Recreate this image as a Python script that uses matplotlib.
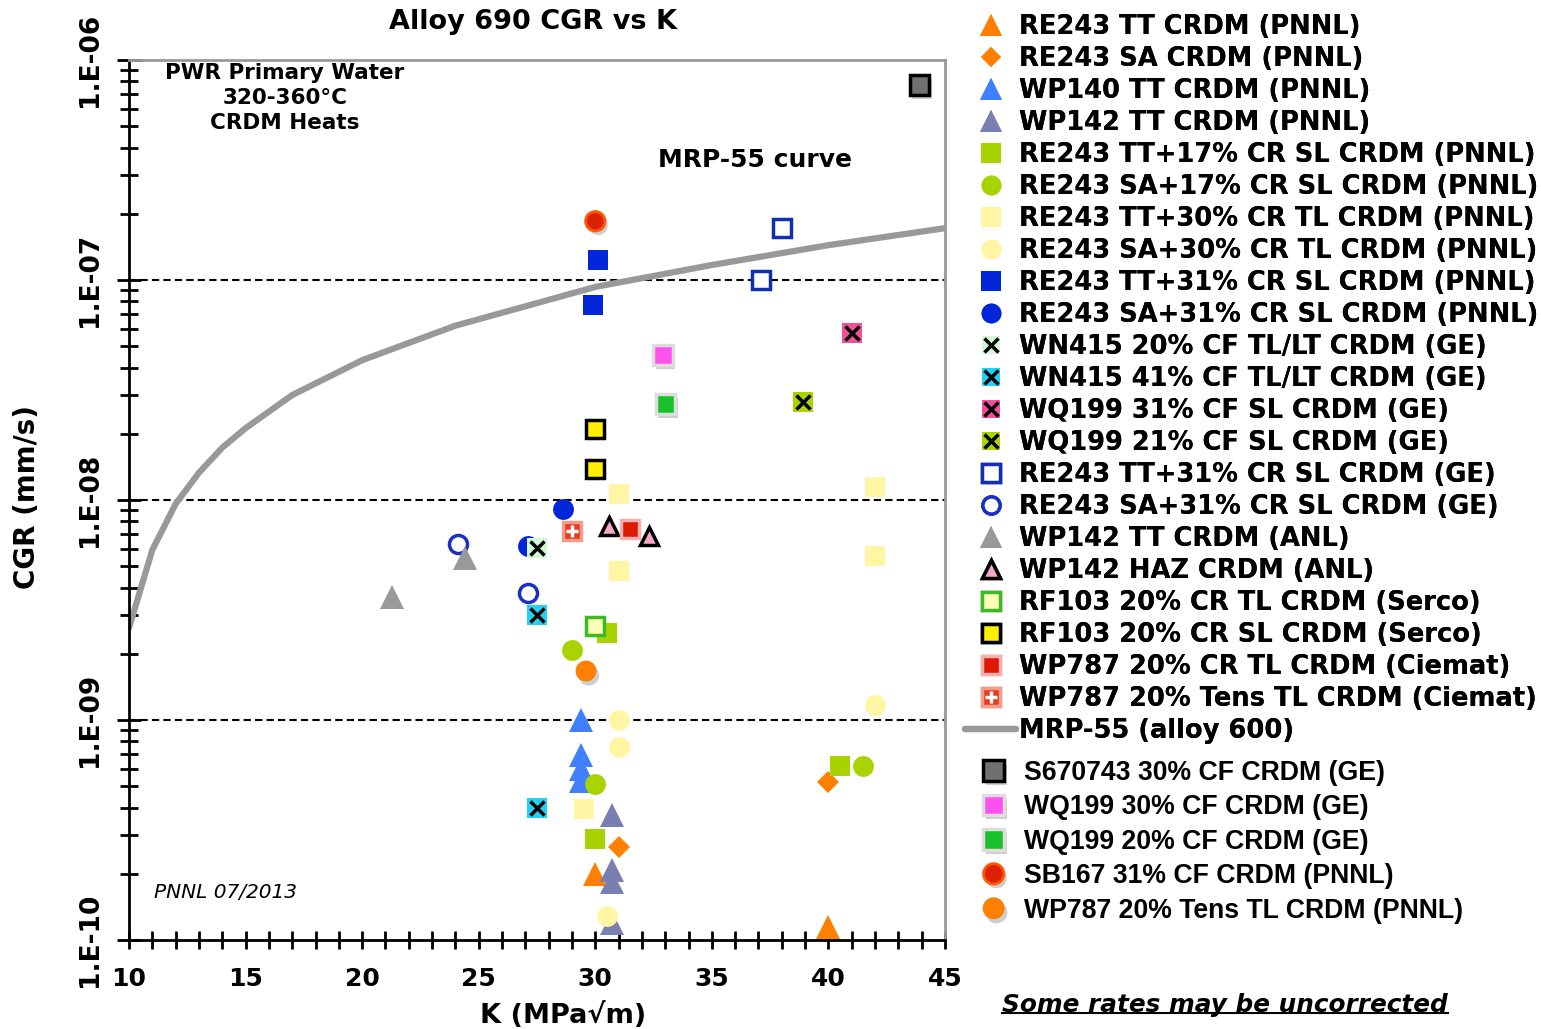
# Alloy 690 CGR vs K - crack growth rates of CRDM heats
import numpy as np
import matplotlib
matplotlib.use('Agg')
import matplotlib.pyplot as plt
import matplotlib.patheffects as pe
from matplotlib.legend_handler import HandlerTuple
from matplotlib.lines import Line2D
from matplotlib.ticker import FixedLocator, NullFormatter

# Data: stress intensity K (MPa*sqrt(m)) and CGR (mm/s)
labels = [
    'RE243 TT CRDM (PNNL)',
    'RE243 SA CRDM (PNNL)',
    'WP140 TT CRDM (PNNL)',
    'WP142 TT CRDM (PNNL)',
    'RE243 TT+17% CR SL CRDM (PNNL)',
    'RE243 SA+17% CR SL CRDM (PNNL)',
    'RE243 TT+30% CR TL CRDM (PNNL)',
    'RE243 SA+30% CR TL CRDM (PNNL)',
    'RE243 TT+31% CR SL CRDM (PNNL)',
    'RE243 SA+31% CR SL CRDM (PNNL)',
    'WN415 20% CF TL/LT CRDM (GE)',
    'WN415 41% CF TL/LT CRDM (GE)',
    'WQ199 31% CF SL CRDM (GE)',
    'WQ199 21% CF SL CRDM (GE)',
    'RE243 TT+31% CR SL CRDM (GE)',
    'RE243 SA+31% CR SL CRDM (GE)',
    'WP142 TT CRDM (ANL)',
    'WP142 HAZ CRDM (ANL)',
    'RF103 20% CR TL CRDM (Serco)',
    'RF103 20% CR SL CRDM (Serco)',
    'WP787 20% CR TL CRDM (Ciemat)',
    'WP787 20% Tens TL CRDM (Ciemat)',
    'S670743 30% CF CRDM (GE)',
    'WQ199 30% CF CRDM (GE)',
    'WQ199 20% CF CRDM (GE)',
    'SB167 31% CF CRDM (PNNL)',
    'WP787 20% Tens TL CRDM (PNNL)',
]
k_values = [
    [30.0, 40.0],
    [31.0, 40.0],
    [29.4, 29.4, 29.4, 29.4],
    [30.7, 30.7, 30.7, 30.7],
    [30.5, 30.0, 40.5],
    [29.0, 30.0, 41.5],
    [31.0, 31.0, 42.0, 42.0, 29.5],
    [31.0, 31.0, 42.0, 30.5],
    [30.1, 29.9],
    [28.6, 27.1],
    [27.5],
    [27.5, 27.5],
    [41.0],
    [38.9],
    [38.0, 37.1],
    [24.1, 27.1],
    [24.4, 21.3],
    [30.6, 32.3],
    [30.0],
    [30.0, 30.0],
    [31.5],
    [29.0],
    [43.9],
    [32.9],
    [33.0],
    [30.0],
    [29.6],
]
cgr_values = [
    [2.0e-10, 1.15e-10],
    [2.65e-10, 5.2e-10],
    [1.0e-9, 6.9e-10, 6.0e-10, 5.3e-10],
    [3.7e-10, 2.08e-10, 1.84e-10, 1.19e-10],
    [2.48e-9, 2.88e-10, 6.2e-10],
    [2.08e-9, 5.1e-10, 6.2e-10],
    [1.06e-8, 4.75e-9, 1.15e-8, 5.56e-9, 3.94e-10],
    [1.0e-9, 7.5e-10, 1.17e-9, 1.29e-10],
    [1.23e-7, 7.7e-8],
    [9.1e-9, 6.2e-9],
    [6.05e-9],
    [3.0e-9, 3.98e-10],
    [5.74e-8],
    [2.79e-8],
    [1.72e-7, 1.0e-7],
    [6.3e-9, 3.78e-9],
    [5.45e-9, 3.62e-9],
    [7.6e-9, 6.86e-9],
    [2.67e-9],
    [2.1e-8, 1.38e-8],
    [7.38e-9],
    [7.22e-9],
    [7.7e-7],
    [4.56e-8],
    [2.73e-8],
    [1.85e-7],
    [1.67e-9],
]

# MRP-55 disposition curve (alloy 600)
curve_k = [10, 11, 12, 13, 14, 15, 17, 20, 24, 30, 35, 40, 45]
curve_cgr = [2.62e-9, 5.93e-9, 9.6e-9, 1.33e-8, 1.73e-8, 2.12e-8, 3.0e-8,
             4.32e-8, 6.2e-8, 9.3e-8, 1.17e-7, 1.44e-7, 1.72e-7]

ytick_vals = [1e-10, 1e-9, 1e-8, 1e-7, 1e-6]
ytick_labels = ['1.E-10', '1.E-09', '1.E-08', '1.E-07', '1.E-06']
xtick_vals = [10, 15, 20, 25, 30, 35, 40, 45]

W, H = 1541, 1029
fx = lambda px: px / W
fy = lambda py: 1 - py / H

fig = plt.figure(figsize=(W / 100, H / 100), dpi=100)
ax = fig.add_axes([fx(129), fy(940), (945 - 129) / W, (940 - 60) / H])

shadow = [pe.SimplePatchShadow(offset=(2, -3), shadow_rgbFace='0.45', alpha=0.35), pe.Normal()]

# (marker, size, face, edge, edge width, overlay, shadow)
X_OVER = ('x', 10, 'black', 2.5)
styles = [
    ('^', 17, '#ff7f00', '#ff7f00', 0, None, False),
    ('D', 11, '#ff7f00', '#ff7f00', 0, None, False),
    ('^', 17, '#3f80ff', '#3f80ff', 0, None, False),
    ('^', 17, '#7a7fb2', '#7a7fb2', 0, None, False),
    ('s', 15, '#a8d200', '#a8d200', 0, None, False),
    ('o', 15, '#a8d200', '#a8d200', 0, None, False),
    ('s', 15, '#fff5a3', '#fff5a3', 0, None, False),
    ('o', 15, '#fff5a3', '#fff5a3', 0, None, False),
    ('s', 15, '#0026d8', '#0026d8', 0, None, False),
    ('o', 15, '#0026d8', '#0026d8', 0, None, False),
    ('s', 14, '#d4f7d4', '#d4f7d4', 0, X_OVER, False),
    ('s', 14, '#22d2f2', '#22d2f2', 0, X_OVER, False),
    ('s', 14, '#f0509a', '#f0509a', 0, X_OVER, False),
    ('s', 14, '#a8d200', '#a8d200', 0, X_OVER, False),
    ('s', 13, 'white', '#1030b0', 2.5, None, False),
    ('o', 13, 'white', '#1a30c0', 2.5, None, False),
    ('^', 17, '#999999', '#999999', 0, None, False),
    ('^', 13, '#f4a8c8', 'black', 2.5, None, False),
    ('s', 13, '#ffffb8', '#3cb828', 2.5, None, False),
    ('s', 13, '#ffee00', 'black', 2.5, None, False),
    ('s', 13, '#dd1a00', '#f2b0b0', 2.5, None, False),
    ('s', 13, '#e83a20', '#f29c8c', 2.5, ('+', 9, 'white', 2.5), False),
    ('s', 14, '#707070', 'black', 2.5, None, True),
    ('s', 14, '#ff50f0', '#dddddd', 2.5, None, True),
    ('s', 14, '#18c02a', '#dddddd', 2.5, None, True),
    ('o', 14, '#dd2200', '#ff5a00', 2, None, True),
    ('o', 15, '#ff7f00', '#ff7f00', 0, None, True),
]

# reference lines at each decade
for v in [1e-7, 1e-8, 1e-9]:
    ax.axhline(v, color='black', lw=1.5, ls=(0, (3.5, 2)), zorder=1)

curve, = ax.plot(curve_k, curve_cgr, color='#999999', lw=4.5, zorder=2,
                 solid_capstyle='round', solid_joinstyle='round')

handles = []
for i, (lab, k, cgr, st) in enumerate(zip(labels, k_values, cgr_values, styles)):
    m, ms, fc, ec, ew, over, shad = st
    h, = ax.plot(k, cgr, ls='none', marker=m, ms=ms, mfc=fc, mec=ec, mew=ew,
                 zorder=3 + i * 0.01, label=lab)
    if shad:
        h.set_path_effects(shadow)
    if over:
        h2, = ax.plot(k, cgr, ls='none', marker=over[0], ms=over[1], color=over[2],
                      mew=over[3], zorder=3 + i * 0.01 + 0.005)
        handles.append((h, h2))
    else:
        handles.append(h)

ax.set_yscale('log')
ax.set_xlim(10, 45)
ax.set_ylim(1e-10, 1e-6)

ax.xaxis.set_major_locator(FixedLocator(xtick_vals))
ax.xaxis.set_minor_locator(FixedLocator(np.arange(10, 46, 1)))
ax.set_xticklabels([str(v) for v in xtick_vals], fontsize=18, weight='bold')

ax.yaxis.set_major_locator(FixedLocator(ytick_vals))
minors = [m * 10.0 ** e for e in range(-10, -6) for m in range(2, 10)]
ax.yaxis.set_minor_locator(FixedLocator(minors))
ax.yaxis.set_minor_formatter(NullFormatter())
ax.set_yticklabels(ytick_labels, fontsize=19, weight='bold', rotation=90, va='center')

ax.tick_params(axis='x', which='both', direction='inout', length=13, width=2, pad=13)
ax.tick_params(axis='y', which='major', direction='inout', length=17, width=2, pad=10)
ax.tick_params(axis='y', which='minor', direction='inout', length=13, width=2)

for s in ['left', 'bottom']:
    ax.spines[s].set_linewidth(2)
    ax.spines[s].set_color('black')
for s in ['top', 'right']:
    ax.spines[s].set_linewidth(2)
    ax.spines[s].set_color('#999999')

# titles and labels
fig.text(fx(533), fy(22), 'Alloy 690 CGR vs K', ha='center', va='center',
         fontsize=19.5, weight='bold')
fig.text(fx(563), fy(1016), 'K (MPa√m)', ha='center', va='center',
         fontsize=19.5, weight='bold')
fig.text(fx(27), fy(497), 'CGR (mm/s)', ha='center', va='center',
         fontsize=20, weight='bold', rotation=90)

fig.text(fx(285), fy(98), 'PWR Primary Water\n320-360°C\nCRDM Heats',
         ha='center', va='center', fontsize=15.5, weight='bold', linespacing=1.32)
fig.text(fx(755), fy(160), 'MRP-55 curve', ha='center', va='center',
         fontsize=18, weight='bold')
fig.text(fx(154), fy(893), 'PNNL 07/2013', ha='left', va='center',
         fontsize=14.5, style='italic')
note = fig.text(fx(1002), fy(1005), 'Some rates may be uncorrected', ha='left',
                va='center', fontsize=17.8, weight='bold', style='italic')

# legends
hmap = {tuple: HandlerTuple(ndivide=1, pad=0)}
leg1 = fig.legend(handles[:22] + [curve], labels[:22] + ['MRP-55 (alloy 600)'],
                  loc='upper left', bbox_to_anchor=(fx(965), fy(14)),
                  bbox_transform=fig.transFigure, frameon=False, handler_map=hmap,
                  prop={'size': 18.5, 'weight': 'bold'}, handlelength=2.0,
                  handletextpad=0.1, labelspacing=0.233, borderpad=0,
                  borderaxespad=0, markerscale=0.95, numpoints=1)
fig.add_artist(leg1)
leg2 = fig.legend(handles[22:], labels[22:],
                  loc='upper left', bbox_to_anchor=(fx(967), fy(760)),
                  bbox_transform=fig.transFigure, frameon=False, handler_map=hmap,
                  prop={'family': 'Liberation Sans', 'size': 19.2, 'weight': 'bold'},
                  handlelength=2.0, handletextpad=0.12, labelspacing=0.315,
                  borderpad=0, borderaxespad=0, markerscale=1.05, numpoints=1)

# underline the note
fig.canvas.draw()
bb = note.get_window_extent()
fig.add_artist(Line2D([bb.x0 / W, bb.x1 / W], [(bb.y0 + 4) / H] * 2,
                      transform=fig.transFigure, color='black', lw=1.5))

fig.savefig('out.png', dpi=100)
